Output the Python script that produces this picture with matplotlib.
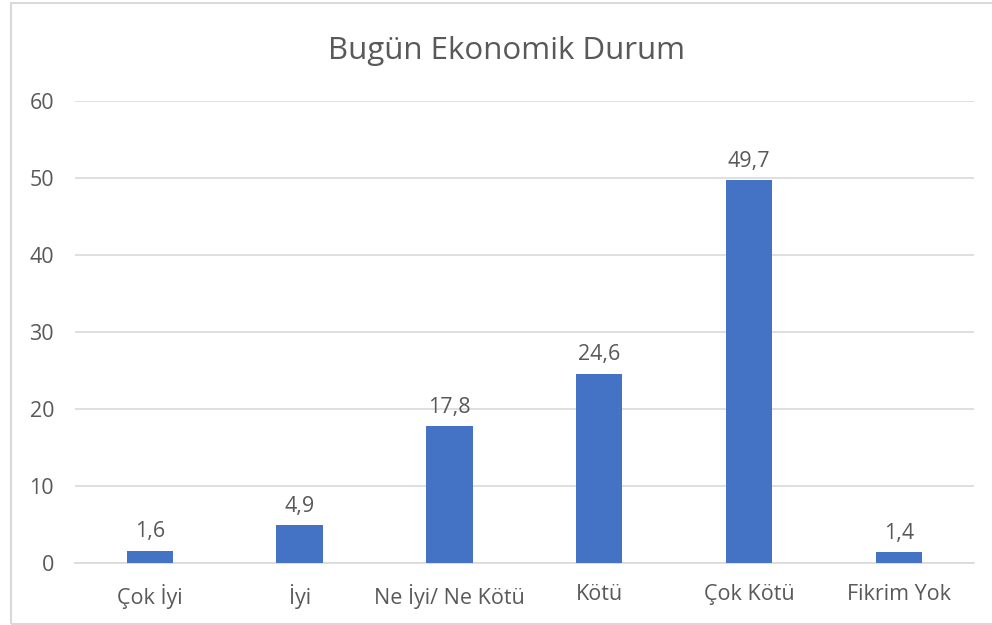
import matplotlib.pyplot as plt
from matplotlib.patches import Rectangle

# donnees du graphique
kategoriler = ["Çok İyi", "İyi", "Ne İyi/ Ne Kötü", "Kötü", "Çok Kötü", "Fikrim Yok"]
degerler = [1.6, 4.9, 17.8, 24.6, 49.7, 1.4]
y_ticks = [0, 10, 20, 30, 40, 50, 60]

plt.rcParams['font.family'] = ['Open Sans', 'DejaVu Sans']
gris = "#595959"

fig = plt.figure(figsize=(9.92, 6.25), dpi=100)
ax = fig.add_axes([0.0756, 0.0992, 0.906, 0.7392])

x = range(len(kategoriler))
bars = ax.bar(x, degerler, width=0.31, color="#4472C4", zorder=3)
for b, v in zip(bars, degerler):
    ax.annotate(f"{v:.1f}".replace(".", ","), (b.get_x() + b.get_width() / 2, v),
                xytext=(0, 6), textcoords="offset points",
                ha="center", va="bottom", fontsize=15.5, color=gris)

ax.set_xlim(-0.5, len(kategoriler) - 0.5)
ax.set_ylim(0, 60)
ax.set_yticks(y_ticks)
ax.set_xticks(list(x))
ax.set_xticklabels(kategoriler)
ax.tick_params(axis="both", length=0, labelsize=15.5, labelcolor=gris)
ax.tick_params(axis="x", pad=15)
ax.tick_params(axis="y", pad=15)
ax.grid(axis="y", color="#D9D9D9", linewidth=1.2, zorder=0)
for s in ["top", "right", "left"]:
    ax.spines[s].set_visible(False)
ax.spines["bottom"].set_color("#D9D9D9")
ax.spines["bottom"].set_linewidth(1.2)

fig.text(0.511, 0.919, "Bugün Ekonomik Durum", ha="center", va="center",
         fontsize=22.5, color=gris)

# cadre autour du graphique
fig.patches.append(Rectangle((11 / 992, 1 / 625), 1.0, 621 / 625,
                             transform=fig.transFigure, fill=False,
                             edgecolor="#D9D9D9", linewidth=1.5))

fig.savefig("out.png", dpi=100)
